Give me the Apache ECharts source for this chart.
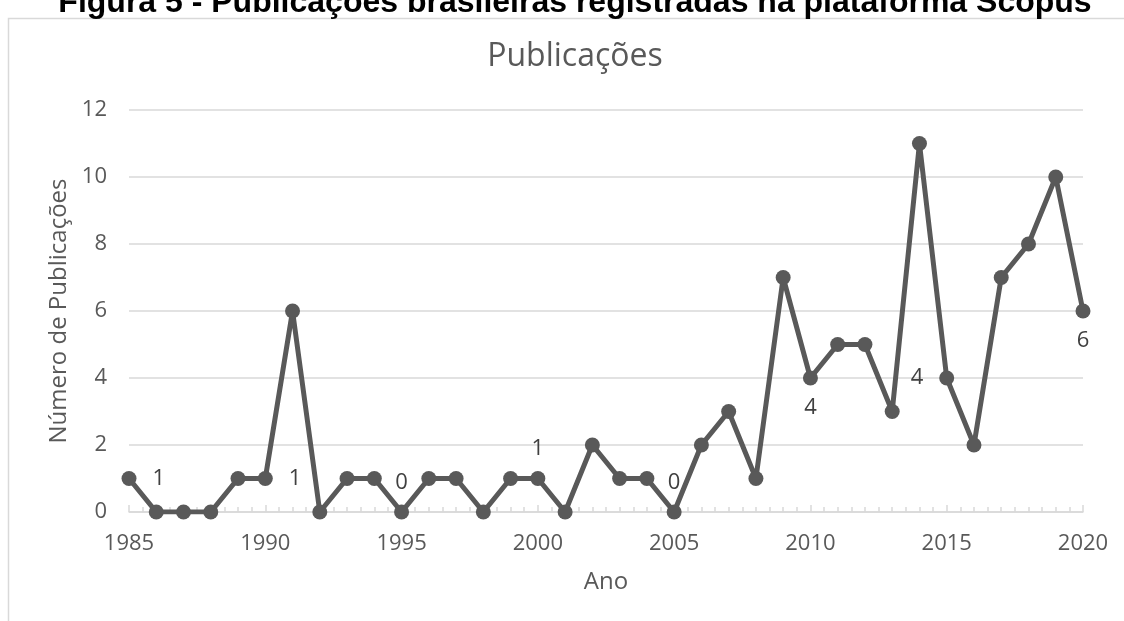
<!DOCTYPE html>
<html>
<head>
<meta charset="utf-8">
<script src="https://cdn.jsdelivr.net/npm/echarts@6/dist/echarts.min.js"></script>
<style>
  html, body { margin: 0; padding: 0; background: #ffffff; }
  #chart { width: 1124px; height: 621px; }
</style>
</head>
<body>
<div id="chart"></div>
<script>
// Publication counts per year
const years = [1985, 1986, 1987, 1988, 1989, 1990, 1991, 1992, 1993, 1994,
               1995, 1996, 1997, 1998, 1999, 2000, 2001, 2002, 2003, 2004,
               2005, 2006, 2007, 2008, 2009, 2010, 2011, 2012, 2013, 2014,
               2015, 2016, 2017, 2018, 2019, 2020];
const publications = [1, 0, 0, 0, 1, 1, 6, 0, 1, 1,
                      0, 1, 1, 0, 1, 1, 0, 2, 1, 1,
                      0, 2, 3, 1, 7, 4, 5, 5, 3, 11,
                      4, 2, 7, 8, 10, 6];
// Years that carry a value label, and where the label sits
const labelledYears = [1985, 1990, 1995, 2000, 2005, 2010, 2015, 2020];
const labelSides = ['right', 'right', 'top', 'top', 'top', 'bottom', 'left', 'bottom'];

const figureTitle = 'Figura 5 - Publicações brasileiras registradas na plataforma Scopus';
const chartTitle = 'Publicações';
const xName = 'Ano';
const yName = 'Número de Publicações';

const FONT = '"Open Sans", "DejaVu Sans", sans-serif';

const seriesData = years.map((y, i) => {
  const k = labelledYears.indexOf(y);
  const item = { value: [y, publications[i]] };
  if (k >= 0) {
    const side = labelSides[k];
    item.label = {
      show: true,
      position: side,
      distance: (side === 'top' || side === 'bottom') ? 11 : 16,
      formatter: String(publications[i])
    };
  }
  return item;
});

const chart = echarts.init(document.getElementById('chart'), null, { renderer: 'canvas' });
chart.setOption({
  backgroundColor: '#ffffff',
  animation: false,
  graphic: [
    {
      type: 'rect',
      silent: true,
      shape: { x: 8.5, y: 18.5, width: 1200, height: 700 },
      style: { fill: 'none', stroke: '#d9d9d9', lineWidth: 1.5 },
      z: 0
    },
    {
      type: 'text',
      silent: true,
      x: 575, y: 3,
      style: {
        text: figureTitle,
        font: 'bold 32px "Liberation Sans", Arial, sans-serif',
        fill: '#000000',
        align: 'center',
        verticalAlign: 'middle'
      },
      z: 10
    },
    {
      type: 'text',
      silent: true,
      x: 575, y: 57,
      style: {
        text: chartTitle,
        font: '32px ' + FONT,
        fill: '#595959',
        align: 'center',
        verticalAlign: 'middle'
      }
    }
  ],
  grid: { left: 129, right: 41, top: 110, bottom: 109, containLabel: false },
  xAxis: {
    type: 'value',
    min: 1985, max: 2020, interval: 5,
    name: xName,
    nameLocation: 'middle',
    nameGap: 58,
    nameTextStyle: { fontFamily: FONT, fontSize: 24, color: '#595959' },
    axisLine: { show: true, lineStyle: { color: '#d9d9d9', width: 1.5 } },
    axisTick: { show: true, inside: true, length: 7, lineStyle: { color: '#d9d9d9', width: 1.5 } },
    minorTick: { show: true, splitNumber: 10, length: 5, lineStyle: { color: '#d9d9d9', width: 1.5 } },
    splitLine: { show: false },
    axisLabel: { fontFamily: FONT, fontSize: 22, color: '#595959', margin: 21, formatter: v => String(v) }
  },
  yAxis: {
    type: 'value',
    min: 0, max: 12, interval: 2,
    name: yName,
    nameLocation: 'middle',
    nameGap: 56,
    nameTextStyle: { fontFamily: FONT, fontSize: 24, color: '#595959' },
    axisLine: { show: false },
    axisTick: { show: false },
    splitLine: { show: true, lineStyle: { color: '#d9d9d9', width: 1.5 } },
    axisLabel: { fontFamily: FONT, fontSize: 22, color: '#595959', margin: 22 }
  },
  series: [{
    type: 'line',
    data: seriesData,
    symbol: 'circle',
    symbolSize: 15,
    lineStyle: { color: '#595959', width: 5 },
    itemStyle: { color: '#595959' },
    label: { show: false, fontFamily: FONT, fontSize: 22, color: '#404040' },
    z: 5
  }]
});
</script>
</body>
</html>
